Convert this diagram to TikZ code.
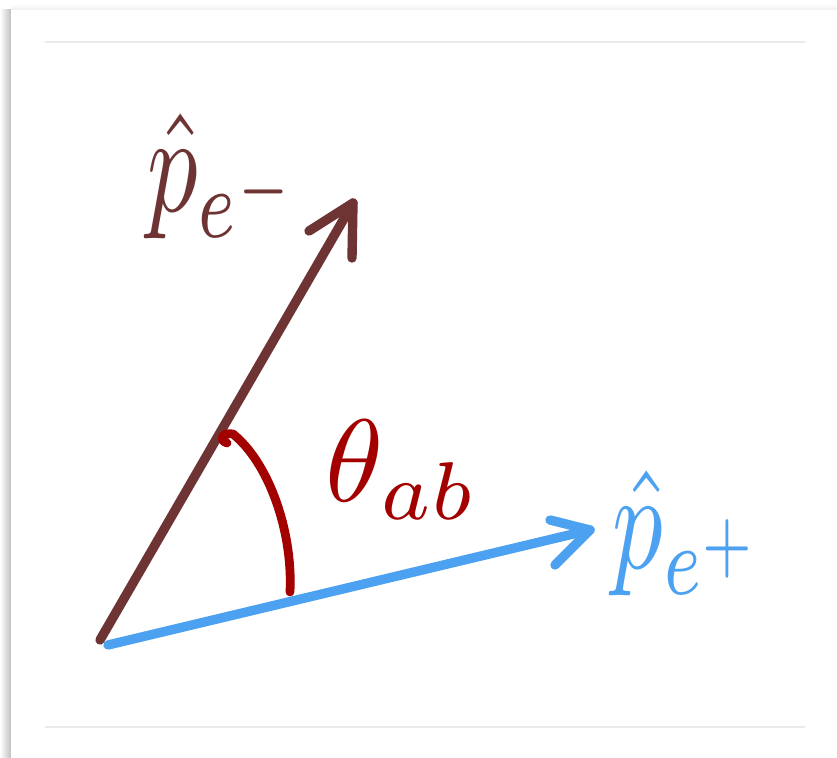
\documentclass[tikz,border=0pt]{standalone}
\usetikzlibrary{shadings}
\definecolor{vbrown}{RGB}{110,52,52}
\definecolor{vblue}{RGB}{77,161,241}
\definecolor{vred}{RGB}{163,0,0}
\definecolor{rulegray}{RGB}{235,235,235}
\begin{document}
\begin{tikzpicture}[x=0.03cm,y=-0.03cm,
  stroke/.style={line width=8pt,line cap=round,line join=round},
  lbl/.style={inner sep=0pt,anchor=center}]
\useasboundingbox (0,0) rectangle (837,758);
\fill[white] (0,0) rectangle (837,758);
% card shadow
\shade[left color=white,right color=black!25] (0,10) rectangle (11,758);
\shade[top color=white,bottom color=black!6] (11,4) rectangle (837,10);
\fill[white] (11,10) rectangle (837,758);
% rules
\draw[rulegray,line width=1pt] (45,42) -- (805,42);
\draw[rulegray,line width=1pt] (45,727) -- (805,727);
% coordinates
\coordinate (ob) at (100,640);
\coordinate (ou) at (108,645);
\coordinate (a) at (353,203);
\coordinate (al) at (309,231);
\coordinate (ar) at (352,258);
\coordinate (b) at (590,530);
\coordinate (bu) at (550,520);
\coordinate (bl) at (555,565);
\coordinate (c0) at (227,443);
\coordinate (c2) at (233,434);
\coordinate (c3) at (290,592);
% vectors
\draw[stroke,vbrown] (ob) -- (a);
\draw[stroke,vbrown] (al) -- (a) -- (ar);
\draw[stroke,vblue] (ou) -- (b);
\draw[stroke,vblue] (bu) -- (b) -- (bl);
% angle arc
\draw[stroke,vred,line width=7.5pt] (c0) .. controls (218,440) and (222,432) .. (c2)
  .. controls (268,462) and (293,530) .. (c3);
% labels
\node[lbl,vbrown,xscale=8.6,yscale=12] (pm) at (224,176) {$\hat{p}_{e^-}$};
\node[lbl,vred,scale=10] (th) at (402,470) {$\theta_{ab}$};
\node[lbl,vblue,xscale=8.6,yscale=12] (pp) at (688,533) {$\hat{p}_{e^+}$};
\end{tikzpicture}
\end{document}
